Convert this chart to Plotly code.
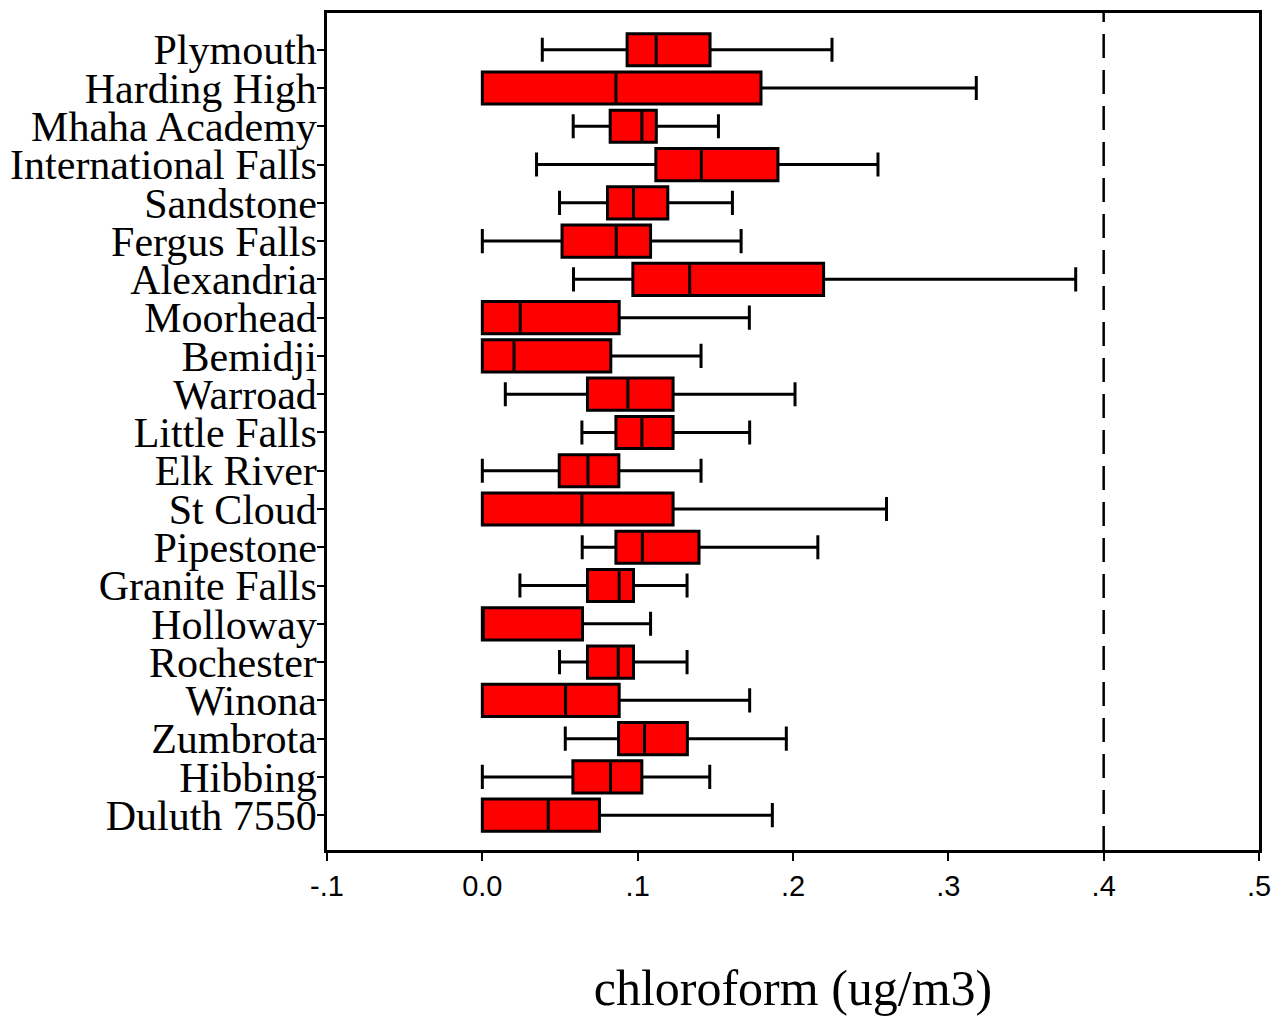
import plotly.graph_objects as go

sites = ["Plymouth", "Harding High", "Mhaha Academy", "International Falls", "Sandstone",
         "Fergus Falls", "Alexandria", "Moorhead", "Bemidji", "Warroad", "Little Falls",
         "Elk River", "St Cloud", "Pipestone", "Granite Falls", "Holloway", "Rochester",
         "Winona", "Zumbrota", "Hibbing", "Duluth 7550"]

lower = [0.0386, 0.0, 0.0585, 0.0349, 0.0497, 0.0, 0.0587, 0.0, 0.0, 0.0148, 0.0641,
         0.0, 0.0, 0.0643, 0.0242, 0.0, 0.0497, 0.0, 0.0534, 0.0, 0.0]
q1 = [0.0932, 0.0, 0.0823, 0.1117, 0.0806, 0.0513, 0.0969, 0.0, 0.0, 0.0677, 0.0860,
      0.0495, 0.0, 0.0860, 0.0677, 0.0, 0.0677, 0.0, 0.0877, 0.0583, 0.0]
median = [0.1119, 0.0860, 0.1027, 0.1410, 0.0973, 0.0862, 0.1335, 0.0244, 0.0204, 0.0937,
          0.1027, 0.0680, 0.0641, 0.1030, 0.0881, 0.0, 0.0875, 0.0536, 0.1044, 0.0825, 0.0424]
q3 = [0.1466, 0.1794, 0.1120, 0.1903, 0.1194, 0.1083, 0.2197, 0.0881, 0.0827, 0.1228,
      0.1228, 0.0879, 0.1228, 0.1395, 0.0973, 0.0645, 0.0973, 0.0881, 0.1320, 0.1027, 0.0754]
upper = [0.2251, 0.3180, 0.1520, 0.2547, 0.1610, 0.1666, 0.3820, 0.1719, 0.1408, 0.2013,
         0.1721, 0.1408, 0.2602, 0.2160, 0.1318, 0.1083, 0.1318, 0.1721, 0.1957, 0.1464, 0.1867]

x_ticks = [-0.1, 0.0, 0.1, 0.2, 0.3, 0.4, 0.5]
x_tick_labels = ["-.1", "0.0", ".1", ".2", ".3", ".4", ".5"]
threshold = 0.4

fig = go.Figure()
fig.add_trace(go.Box(
    y=sites, q1=q1, median=median, q3=q3, lowerfence=lower, upperfence=upper,
    orientation="h", fillcolor="#FF0000", line=dict(color="black", width=3),
    width=0.84, whiskerwidth=0.75, boxpoints=False, showlegend=False, hoverinfo="x+y",
))

fig.add_shape(type="line", xref="x", yref="paper", x0=threshold, x1=threshold, y0=0, y1=1,
              line=dict(color="black", width=2.5, dash="24px,12px"), layer="above")

n = len(sites)
fig.update_layout(
    width=1283, height=1017,
    margin=dict(l=325, r=24, t=10, b=167),
    plot_bgcolor="white", paper_bgcolor="white",
    xaxis=dict(
        range=[-0.1, 0.5], tickvals=x_ticks, ticktext=x_tick_labels,
        showgrid=False, zeroline=False, showline=True, linecolor="black", linewidth=2.5,
        mirror=True, ticks="outside", ticklen=8, tickwidth=2, tickcolor="black",
        tickfont=dict(family="Liberation Sans, Arial", size=29, color="black"),
        title=dict(text="chloroform (ug/m3)", standoff=70,
                   font=dict(family="Liberation Serif, Times New Roman", size=50, color="black")),
    ),
    yaxis=dict(
        type="category", categoryorder="array", categoryarray=sites,
        tickmode="array", tickvals=sites, ticktext=sites,
        range=[n - 1 + 0.91, -0.96],
        showgrid=False, zeroline=False, showline=True, linecolor="black", linewidth=2.5,
        mirror=True, ticks="outside", ticklen=7, tickwidth=2, tickcolor="black",
        ticklabelstandoff=-8,
        tickfont=dict(family="Liberation Serif, Times New Roman", size=42, color="black"),
    ),
)

fig.write_html("out.html")
